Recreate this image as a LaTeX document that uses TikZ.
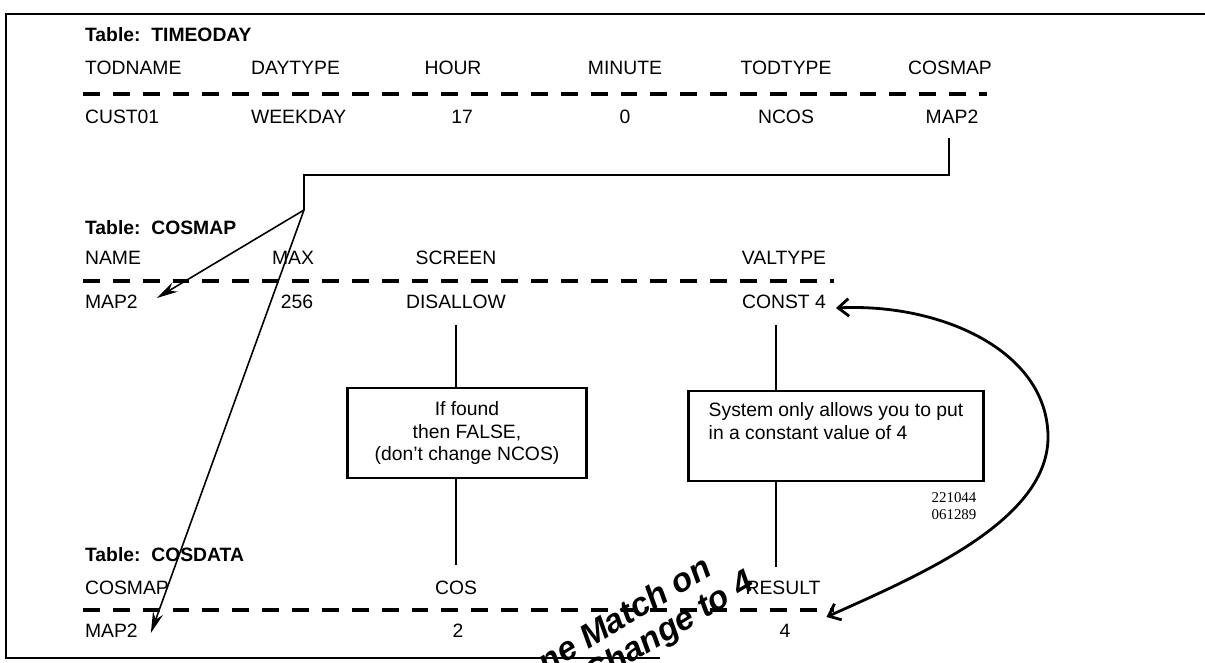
\documentclass[tikz,border=0pt]{standalone}
\usepackage{fontspec}
\setmainfont{Liberation Sans}
\newfontfamily\stampfont{Liberation Serif}
\usetikzlibrary{arrows.meta,calc}

\begin{document}
\begin{tikzpicture}[x=0.02cm,y=-0.02cm,every node/.style={font=\fontsize{11}{13}\selectfont,inner sep=1pt},
    title/.style={font=\fontsize{11}{13}\selectfont\bfseries,anchor=west},
    col/.style={anchor=west},
    sep/.style={line width=1.8pt,dash pattern=on 9.6pt off 7.4pt},
    note/.style={draw,line width=1.6pt,minimum height=1.8cm,align=center,inner sep=4pt},
    link/.style={line width=0.7pt},
    arr/.style={-{Stealth[length=12pt,width=6pt]},line width=0.9pt},
    hand/.style={font=\fontsize{19}{21}\selectfont\bfseries\itshape,rotate=31}]
    \useasboundingbox (0,0) rectangle (1205,663);
    \draw[line width=1.2pt] (1205,14) -- (6,14) -- (6,658) -- (660,658);

    % table TIMEODAY
    \node[title] (tTod) at (83,35) {Table:\ \ TIMEODAY};
    \node[col] (hTodname) at (83,68) {TODNAME};
    \node[col] (hDaytype) at (249,68) {DAYTYPE};
    \node (hHour) at (453,68) {HOUR};
    \node (hMinute) at (625,68) {MINUTE};
    \node (hTodtype) at (786,68) {TODTYPE};
    \node (hTodmap) at (950,68) {COSMAP};
    \draw[sep] (83,94) -- (987,94);
    \node[col] (vTodname) at (83,117) {CUST01};
    \node[col] (vDaytype) at (249,117) {WEEKDAY};
    \node (vHour) at (462,117) {17};
    \node (vMinute) at (625,117) {0};
    \node (vTodtype) at (786,117) {NCOS};
    \node (vTodmap) at (952,117) {MAP2};

    % table COSMAP
    \node[title] (tMap) at (83,228) {Table:\ \ COSMAP};
    \node[col] (hName) at (83,258) {NAME};
    \node (hMax) at (293,258) {MAX};
    \node (hScreen) at (456,258) {SCREEN};
    \node (hValtype) at (784,258) {VALTYPE};
    \draw[sep] (83,281) -- (834,281);
    \node[col] (vName) at (83,302) {MAP2};
    \node (vMax) at (297,302) {256};
    \node (vScreen) at (456,302) {DISALLOW};
    \node (vValtype) at (784,302) {CONST 4};

    \node[note,minimum width=4.78cm] (noteScreen) at (467,433) {If found\\then FALSE,\\(don't change NCOS)};
    \node[note,minimum width=5.9cm,align=left] (noteVal) at (836,436) {System only allows you to put\\in a constant value of 4\\[4pt]\mbox{}};
    \node[font=\stampfont\fontsize{8.5}{10}\selectfont,align=left] (stamp) at (954,506) {221044\\061289};

    % table COSDATA
    \node[title] (tData) at (83,555) {Table:\ \ COSDATA};
    \node[col] (hDatamap) at (83,588) {COSMAP};
    \node (hCos) at (456,588) {COS};
    \node (hResult) at (783,588) {RESULT};
    \draw[sep] (83,610) -- (834,610);
    \node[col] (vDatamap) at (83,631) {MAP2};
    \node (vCos) at (458,631) {2};
    \node (vResult) at (785,631) {4};

    % lookups
    \coordinate (jog) at (304,175);
    \coordinate (fork) at (304,210);
    \coordinate (valX) at (776,0);
    \draw[link] (vTodmap.south) ++(-3,12) |- (jog) -- (fork);
    \draw[arr] (fork) -- ($(vName.east)+(17,-4)$);
    \draw[arr] (fork) -- ($(vDatamap.east)+(11,2)$);
    \draw[link] ($(vScreen.south)+(0,14)$) -- (vScreen.south |- noteScreen.north);
    \draw[link] (hCos.north |- noteScreen.south) -- ($(hCos.north)+(0,-14)$);
    \draw[link] (valX |- 0,325) -- (valX |- noteVal.north);
    \draw[link] (valX |- noteVal.south) -- (valX |- 0,567);

    % pen marks
    \draw[{Straight Barb[length=6pt,width=10pt]}-{Straight Barb[length=6pt,width=10pt]},line width=1.6pt]
      ($(vValtype.east)+(8,6)$) .. controls (940,303) and (1046,350) .. (1048,435)
      .. controls (1050,520) and (920,575) .. ($(vResult.east)+(34,-14)$);
    \node[hand] (noteMatch) at (624,614) {ne Match on};
    \node[hand] (noteChange) at (670,630) {Change to 4};
  \end{tikzpicture}
\end{document}
